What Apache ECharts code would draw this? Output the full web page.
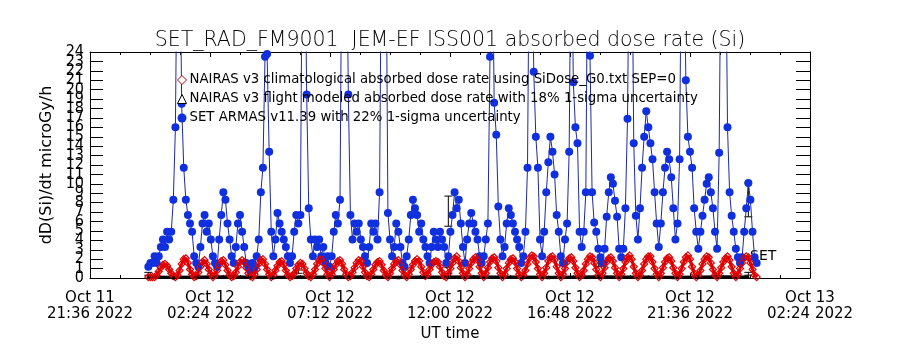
<!DOCTYPE html>
<html>
<head>
<meta charset="utf-8">
<title>SET_RAD_FM9001 dose rate</title>
<script src="https://cdn.jsdelivr.net/npm/echarts/dist/echarts.min.js"></script>
<style>
body{margin:0;background:#fff;}
#dose-graph{width:900px;height:350px;}
</style>
</head>
<body>
<div id="dose-graph"></div>
<script>
// x is minutes after Oct 11 21:36 UT, one tick every 4.8 h
var xTickLabels=['Oct 11\n21:36 2022','Oct 12\n02:24 2022','Oct 12\n07:12 2022','Oct 12\n12:00 2022',
	'Oct 12\n16:48 2022','Oct 12\n21:36 2022','Oct 13\n02:24 2022'];

// SET ARMAS and NAIRAS climatological samples, every 5 min from Oct 11 23:56
var startMin=140;
var stepMin=5;
var setArmas=[
	1.2,1.6,1.6,2.3,1.6,2.3,3.3,4.1,3.3,4.9,4.1,4.9,8.3,16,40,40,18.5,11.7,8.3,6.7,
	5.8,4.9,2.3,1.6,1.2,3.3,5.8,6.7,4.9,5.8,4.1,2.3,1.6,1.2,4.1,6.7,9.1,8.3,5.8,4.1,
	2.3,1.6,3.3,5.8,6.7,4.9,3.3,1.6,1.2,0.8,1.6,1.2,2.3,4.1,9.1,11.7,23.5,23.8,13.4,4.9,
	2.3,4.1,6.9,5.8,4.9,4.1,3.3,2.3,1.6,2.3,4.9,6.7,5.8,6.7,40,40,19.5,7.4,4.1,2.3,
	4.1,3.3,4.1,2.3,3.3,1.6,2.3,1.2,2.3,4.9,6.7,5.8,8.3,40,40,40,19.5,6.7,4.1,5.8,
	4.9,5.8,4.1,3.3,2.3,1.6,3.3,5.8,4.9,5.8,4.1,9.1,40,40,40,6.9,4.1,2.3,3.3,5.8,
	4.9,3.3,1.6,1.2,2.3,4.1,6.7,8.3,7.4,6.7,4.9,5.8,4.1,3.3,2.3,1.6,3.3,4.9,4.1,3.3,
	4.9,4.1,3.3,1.6,2.3,4.9,6.7,9.1,7.4,8.3,5.8,3.3,1.6,4.1,5.8,6.9,5.8,4.9,4.1,2.3,
	1.6,2.3,4.1,5.8,23.5,40,18.6,15.2,7.6,4.1,2.3,3.3,5.8,7.4,6.7,5.8,4.9,4.1,3.3,1.6,
	2.3,4.9,11.7,40,40,21.9,15,11.7,4.1,2.3,4.9,9.1,12.3,15,13.4,11,6.7,4.9,2.3,1.6,
	4.1,5.8,13.4,40,20.8,16,14.3,4.9,3.3,4.9,9.1,40,23.6,9.1,5.9,4.9,3.1,2.2,1.6,3.1,
	6.5,9.1,10.7,10,8.2,6.5,3.1,2.2,3.1,7.4,16.9,40,40,14.3,6.6,4.1,7.4,11.7,15,17.7,
	16,14.3,12.6,9.1,5.8,3.3,5.8,9.1,11.7,13.4,12.6,10.7,7.4,4.1,5.8,12.6,40,40,21,15,
	13.4,11.7,7.4,4.9,3.1,4.9,6.6,8.3,10,10.7,9.1,7.4,4.9,3.1,13.3,40,40,40,16,9.1,
	6.6,4.9,3.1,2.2,1.6,2.2,4.9,7.4,10.1,8.3,4.9,2.2,1.6
];
var nairasClim=[
	0.1,0.1,0.1,0.1,0.3,0.7,1.1,1.4,1.5,1.3,0.9,0.5,0.2,
	0.1,0.3,0.8,1.5,2.0,2.1,1.6,0.9,0.4,0.1,
	0.2,0.6,1.2,1.7,1.9,1.5,0.9,0.4,0.1,
	0.3,0.8,1.4,1.8,1.9,1.4,0.8,0.3,0.1,
	0.2,0.6,1.2,1.7,1.9,1.7,1.1,0.5,0.2,0.1,
	0.4,0.9,1.5,1.9,2.0,1.5,0.9,0.4,0.1,
	0.3,0.8,1.3,1.7,1.8,1.4,0.8,0.3,0.1,
	0.2,0.5,1.0,1.4,1.6,1.5,1.0,0.5,0.2,
	0.1,0.4,0.9,1.5,1.9,2.0,1.6,1.0,0.4,0.1,
	0.4,0.9,1.4,1.8,1.9,1.5,0.9,0.4,0.1,
	0.2,0.6,1.1,1.6,1.9,1.8,1.2,0.6,0.2,
	0.1,0.4,0.9,1.4,1.7,1.8,1.4,0.8,0.3,
	0.1,0.5,1.0,1.5,1.8,1.9,1.4,0.8,0.3,
	0.1,0.4,0.9,1.4,1.8,2.0,1.8,1.2,0.6,0.2,
	0.4,0.9,1.4,1.7,1.8,1.7,1.2,0.6,0.2,
	0.1,0.5,1.0,1.6,2.1,2.3,1.8,1.1,0.5,0.1,
	0.4,1.0,1.6,2.0,2.2,1.9,1.2,0.5,
	0.1,0.5,1.1,1.7,2.1,2.2,1.8,1.1,0.5,0.1,
	0.4,1.0,1.6,2.0,2.1,1.7,1.0,0.4,0.1,
	0.3,0.8,1.5,2.1,2.4,2.3,1.7,1.0,0.4,
	0.1,0.5,1.1,1.8,2.2,2.3,1.9,1.2,0.5,0.1,
	0.4,1.0,1.7,2.1,2.2,1.8,1.1,0.5,0.1,
	0.3,0.8,1.5,2.0,2.3,2.2,1.6,0.9,0.3,
	0.1,0.5,1.1,1.7,2.1,2.2,1.8,1.1,0.5,0.1,
	0.4,1.0,1.7,2.2,2.4,2.0,1.2,0.5,0.1,
	0.3,0.8,1.5,2.0,2.3,2.3,1.7,1.0,0.4,
	0.1,0.5,1.1,1.7,2.1,2.2,1.8,1.1,0.5,0.1,
	0.4,1.0,1.7,2.2,2.4,2.0,1.2,0.5,0.1,
	0.3,0.8,1.5,2.0,2.3,2.2,1.6,0.9,0.3,
	0.1,0.5,1.1,1.7,2.1,2.3,1.9,1.2,0.5,0.1,
	0.4,1.0,1.6,2.1,2.3,2.2,1.6,0.9,0.3,0.1
];

// NAIRAS flight modeled, hourly
var flightStart=140;
var flightStep=60;
var nairasFlight=[0.1,0.08,0.1,0.12,0.1,0.08,0.1,0.1,0.12,0.1,0.08,0.1,0.1,
	0.12,0.1,0.1,0.08,0.1,0.12,0.1,0.1,0.08,0.1,0.12,0.1];

// error bars: time, low, high
var errTimes=[140,500,860,1220,1580,860,1580];
var errLow=[0.3,0.5,1.1,1.2,0.3,5.5,6.5];
var errHigh=[0.6,0.85,1.6,1.9,0.6,8.7,10.1];

function toPairs(t0,dt,vals){
	return vals.map(function(v,i){return [t0+dt*i,v];});
}

var font='DejaVu Sans';
var narrow="'DejaVu Sans Condensed','Liberation Sans Narrow','DejaVu Sans'";
var yLabelStyle={fontFamily:narrow,fontSize:16,color:'#000',margin:6,hideOverlap:false};

var dose_graph=echarts.init(document.getElementById('dose-graph'));
dose_graph.setOption({
	animation:false,
	backgroundColor:'#fff',
	title:{
		text:'SET_RAD_FM9001  JEM-EF ISS001 absorbed dose rate (Si)',
		left:'center',
		top:25,
		textStyle:{fontFamily:font,fontSize:20.5,fontWeight:200,color:'#000'}
	},
	legend:{
		orient:'vertical',
		left:172,
		top:68,
		itemGap:5,
		itemWidth:9,
		itemHeight:9,
		textStyle:{fontFamily:font,fontSize:13.3,color:'#000',lineHeight:14,padding:[0,0,0,-2]},
		data:[
			{name:'NAIRAS v3 climatological absorbed dose rate using SiDose_G0.txt SEP=0',icon:'diamond',
				itemStyle:{color:'#fff',borderColor:'#c00000',borderWidth:1}},
			{name:'NAIRAS v3 flight modeled absorbed dose rate with 18% 1-sigma uncertainty',icon:'triangle',
				itemStyle:{color:'#fff',borderColor:'#000',borderWidth:1}},
			{name:'SET ARMAS v11.39 with 22% 1-sigma uncertainty',icon:'circle',
				itemStyle:{color:'#1030e0',borderWidth:0}}
		]
	},
	grid:{left:90,right:90,top:52,bottom:72},
	xAxis:[{
		type:'value',
		min:0,max:1728,interval:288,
		name:'UT time',
		nameLocation:'middle',
		nameGap:43,
		nameTextStyle:{fontFamily:font,fontSize:15,color:'#000'},
		axisLine:{onZero:false,lineStyle:{color:'#000',width:1}},
		axisTick:{inside:true,length:5,lineStyle:{color:'#000'}},
		minorTick:{show:true,splitNumber:4,length:3,lineStyle:{color:'#000'}},
		splitLine:{show:false},
		axisLabel:{
			fontFamily:font,fontSize:15,color:'#000',lineHeight:16,margin:12,
			showMinLabel:true,showMaxLabel:true,
			formatter:function(v){return xTickLabels[Math.round(v/288)];}
		}
	},{
		type:'value',position:'top',
		min:0,max:1728,interval:288,
		axisLine:{onZero:false,lineStyle:{color:'#000',width:1}},
		axisTick:{inside:true,length:5,lineStyle:{color:'#000'}},
		minorTick:{show:true,splitNumber:4,length:3,lineStyle:{color:'#000'}},
		splitLine:{show:false},
		axisLabel:{show:false}
	}],
	yAxis:[{
		type:'value',
		min:0,max:24,interval:1,
		name:'dD(Si)/dt microGy/h',
		nameLocation:'middle',
		nameRotate:90,
		nameGap:34,
		nameTextStyle:{fontFamily:font,fontSize:16,color:'#000'},
		axisLine:{show:true,onZero:false,lineStyle:{color:'#000',width:1}},
		axisTick:{inside:true,length:13,lineStyle:{color:'#000'}},
		splitLine:{show:false},
		axisLabel:Object.assign({showMinLabel:false,showMaxLabel:false},yLabelStyle)
	},{
		// carries only the 0 and 24 labels so the neighbours are not dropped
		type:'value',position:'left',
		min:0,max:24,interval:1,
		axisLine:{show:false,onZero:false},
		axisTick:{show:false},
		splitLine:{show:false},
		axisLabel:Object.assign({
			formatter:function(v){return (v===0||v===24)?String(v):'';}
		},yLabelStyle)
	},{
		type:'value',position:'right',
		min:0,max:24,interval:1,
		axisLine:{show:true,onZero:false,lineStyle:{color:'#000',width:1}},
		axisTick:{inside:true,length:14,lineStyle:{color:'#000'}},
		splitLine:{show:false},
		axisLabel:{show:false}
	}],
	series:[{
		name:'SET ARMAS v11.39 with 22% 1-sigma uncertainty',
		type:'line',
		data:toPairs(startMin,stepMin,setArmas),
		symbol:'circle',
		symbolSize:8,
		showAllSymbol:true,
		clip:true,
		itemStyle:{color:'#1030e0'},
		lineStyle:{color:'#1c2aa0',width:1}
	},{
		name:'NAIRAS v3 climatological absorbed dose rate using SiDose_G0.txt SEP=0',
		type:'line',
		data:toPairs(startMin,stepMin,nairasClim),
		symbol:'diamond',
		symbolSize:7,
		showAllSymbol:true,
		itemStyle:{color:'rgba(255,255,255,0)',borderColor:'#e00000',borderWidth:1.2},
		lineStyle:{color:'#e00000',width:3}
	},{
		name:'NAIRAS v3 flight modeled absorbed dose rate with 18% 1-sigma uncertainty',
		type:'line',
		data:toPairs(flightStart,flightStep,nairasFlight),
		symbol:'triangle',
		symbolSize:4,
		itemStyle:{color:'#000'},
		lineStyle:{color:'#000',width:3}
	},{
		type:'custom',
		data:errTimes.map(function(t,i){return [t,errLow[i],errHigh[i]];}),
		renderItem:function(params,api){
			var lo=api.coord([api.value(0),api.value(1)]);
			var hi=api.coord([api.value(0),api.value(2)]);
			var w=4;
			var st={stroke:'#000',lineWidth:1};
			return {type:'group',children:[
				{type:'line',shape:{x1:lo[0],y1:lo[1],x2:hi[0],y2:hi[1]},style:st},
				{type:'line',shape:{x1:lo[0]-w,y1:lo[1],x2:lo[0]+w,y2:lo[1]},style:st},
				{type:'line',shape:{x1:hi[0]-w,y1:hi[1],x2:hi[0]+w,y2:hi[1]},style:st}
			]};
		}
	}],
	graphic:[{
		type:'text',left:750,top:249,
		style:{text:'SET',fontFamily:font,fontSize:14,fill:'#000'}
	}]
});
</script>
</body>
</html>
